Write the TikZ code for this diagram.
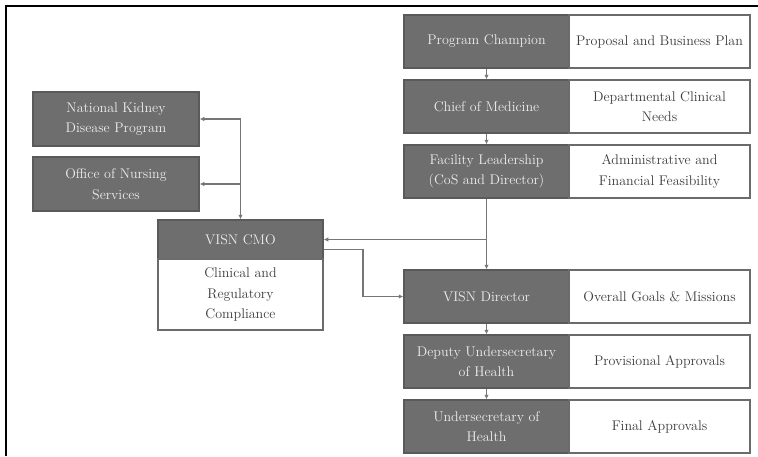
\documentclass[tikz,border=0pt]{standalone}
\usetikzlibrary{arrows.meta}
\definecolor{darkfill}{HTML}{6E6E6E}
\definecolor{boxline}{HTML}{5A5A5A}
\definecolor{lighttext}{HTML}{EDEDED}
\definecolor{darktext}{HTML}{3C3C3C}
\definecolor{conn}{HTML}{767676}
\tikzset{
  darkbox/.style={draw=boxline, line width=1.5pt, fill=darkfill, text=lighttext, align=center,
    inner sep=0pt, font=\fontsize{14}{20.5}\selectfont},
  whitebox/.style={draw=boxline!90, line width=1.5pt, fill=white, text=darktext, align=center,
    inner sep=0pt, font=\fontsize{14}{20.5}\selectfont},
  conline/.style={draw=conn, line width=1.6pt},
  arr/.style={conline, -{Latex[length=4.5pt,width=4.5pt]}},
  barr/.style={conline, {Latex[length=4.5pt,width=4.5pt]}-{Latex[length=4.5pt,width=4.5pt]}},
}
\begin{document}
\begin{tikzpicture}[x=1pt,y=-1pt]
\useasboundingbox (0,0) rectangle (758,456);
\fill[white] (0,0) rectangle (758,456);
% frame
\draw[black, line width=1.5pt] (6,456) -- (6,6) -- (758,6);

% right column
\node[darkbox, minimum width=165pt, minimum height=53pt] (pc) at (486.5,41.5) {Program Champion};
\node[whitebox, minimum width=181pt, minimum height=53pt] (pcw) at (659.5,41.5) {Proposal and Business Plan};
\node[darkbox, minimum width=165pt, minimum height=53pt] (cm) at (486.5,106.5) {Chief of Medicine};
\node[whitebox, minimum width=181pt, minimum height=53pt] (cmw) at (659.5,106.5) {Departmental Clinical\\Needs};
\node[darkbox, minimum width=165pt, minimum height=53pt] (fl) at (486.5,171.5) {Facility Leadership\\(CoS and Director)};
\node[whitebox, minimum width=181pt, minimum height=53pt] (flw) at (659.5,171.5) {Administrative and\\Financial Feasibility};
\node[darkbox, minimum width=165pt, minimum height=53pt] (vd) at (486.5,296.5) {VISN Director};
\node[whitebox, minimum width=181pt, minimum height=53pt] (vdw) at (659.5,296.5) {Overall Goals \& Missions};
\node[darkbox, minimum width=165pt, minimum height=53pt] (du) at (486.5,361.5) {Deputy Undersecretary\\of Health};
\node[whitebox, minimum width=181pt, minimum height=53pt] (duw) at (659.5,361.5) {Provisional Approvals};
\node[darkbox, minimum width=165pt, minimum height=53pt] (us) at (486.5,426.5) {Undersecretary of\\Health};
\node[whitebox, minimum width=181pt, minimum height=53pt] (usw) at (659.5,426.5) {Final Approvals};

% left side
\node[darkbox, minimum width=166pt, minimum height=54pt] (nk) at (116,119) {National Kidney\\Disease Program};
\node[darkbox, minimum width=166pt, minimum height=54pt] (ons) at (116,184) {Office of Nursing\\Services};
\node[darkbox, minimum width=165pt, minimum height=39pt] (cmo) at (240.5,239.5) {VISN CMO};
\node[whitebox, minimum width=165pt, minimum height=71pt] (cmob) at (240.5,294.5) {Clinical and\\Regulatory\\Compliance};

% connectors
\draw[arr] (pc.south) -- (cm.north);
\draw[arr] (cm.south) -- (fl.north);
\draw[arr] (fl.south) -- (vd.north);
\draw[arr] (vd.south) -- (du.north);
\draw[arr] (du.south) -- (us.north);
\draw[arr] (fl.south |- cmo.east) -- (cmo.east);
\coordinate (bend) at (363,249.5);
\draw[arr] (cmo.east |- bend) -- (bend) |- (vd.west);
\draw[barr] (cmo.north) |- (nk.east);
\draw[arr] (cmo.north |- ons.east) -- (ons.east);
\end{tikzpicture}
\end{document}
